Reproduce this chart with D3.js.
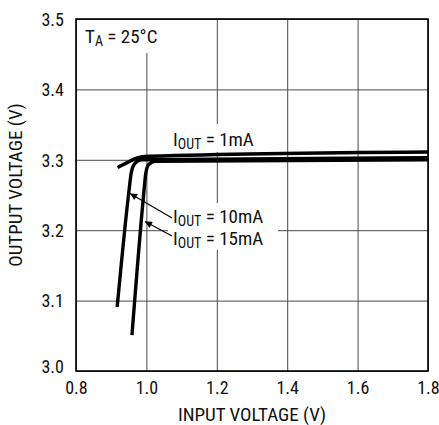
<!DOCTYPE html>
<html>
<head>
<meta charset="utf-8">
<script src="https://cdn.jsdelivr.net/npm/d3@7"></script>
<style>
  body { margin: 0; background: #fff; }
  svg text { font-family: "Liberation Sans Narrow", "Roboto Condensed", "Liberation Sans", sans-serif; fill: #111; }
</style>
</head>
<body>
<div id="chart"></div>
<script>
// data
var xTicks = [0.8, 1.0, 1.2, 1.4, 1.6, 1.8];
var yTicks = [3.0, 3.1, 3.2, 3.3, 3.4, 3.5];

var vin1 = [0.918, 0.945, 0.965, 0.985, 1.01, 1.8];
var vout1 = [3.289, 3.296, 3.301, 3.304, 3.305, 3.311];

var vin10 = [0.917, 0.951, 0.957, 0.966, 0.985, 1.8];
var vout10 = [3.091, 3.258, 3.282, 3.294, 3.300, 3.303];

var vin15 = [0.959, 0.993, 0.998, 1.006, 1.025, 1.8];
var vout15 = [3.051, 3.255, 3.280, 3.293, 3.298, 3.300];

var width = 439, height = 425;
var pLeft = 76, pRight = 428, pTop = 19, pBottom = 371;

var svg = d3.select("#chart").append("svg")
  .attr("width", width)
  .attr("height", height);

var xScale = d3.scaleLinear().domain([0.8, 1.8]).range([pLeft, pRight]);
var yScale = d3.scaleLinear().domain([3.0, 3.5]).range([pBottom, pTop]);

// arrow head
svg.append("defs").append("marker")
  .attr("id", "arr")
  .attr("viewBox", "0 0 10 10")
  .attr("refX", 10).attr("refY", 5)
  .attr("markerWidth", 10).attr("markerHeight", 7)
  .attr("markerUnits", "userSpaceOnUse")
  .attr("orient", "auto")
  .append("path").attr("d", "M0,0 L10,5 L0,10 z").attr("fill", "#000");

// grid
var xAxis = d3.axisBottom(xScale).tickValues(xTicks).tickSize(-(pBottom - pTop)).tickFormat(d3.format(".1f")).tickPadding(8);
var yAxis = d3.axisLeft(yScale).tickValues(yTicks).tickSize(-(pRight - pLeft)).tickFormat(d3.format(".1f")).tickPadding(12);

var gx = svg.append("g").attr("transform", "translate(0," + pBottom + ")").call(xAxis);
var gy = svg.append("g").attr("transform", "translate(" + pLeft + ",0)").call(yAxis);
[gx, gy].forEach(function(g) {
  g.select(".domain").remove();
  g.selectAll(".tick line").attr("stroke", "#4a4a4a").attr("stroke-width", 1);
  g.selectAll(".tick text").attr("font-size", 18).attr("fill", "#111");
});
gx.selectAll(".tick text").attr("dy", "0.85em");
gy.selectAll(".tick text").attr("dy", "0.35em");
gy.selectAll(".tick text").filter(function(d) { return d === 3.0; }).attr("dy", "0.1em");

// white boxes behind the labels (gridlines are broken there)
var boxes = [
  [xScale(0.8) + 2, pTop + 1, 110, 33],
  [170, 124, 96, 28],
  [168, 203, 110, 47]
];
boxes.forEach(function(b) {
  svg.append("rect").attr("x", b[0]).attr("y", b[1]).attr("width", b[2]).attr("height", b[3]).attr("fill", "#fff");
});

// frame
svg.append("rect")
  .attr("x", pLeft).attr("y", pTop)
  .attr("width", pRight - pLeft).attr("height", pBottom - pTop)
  .attr("fill", "none").attr("stroke", "#000").attr("stroke-width", 1.6);

// curves
var line = d3.line()
  .x(function(d) { return xScale(d[0]); })
  .y(function(d) { return yScale(d[1]); })
  .curve(d3.curveMonotoneX);

[[vin1, vout1], [vin10, vout10], [vin15, vout15]].forEach(function(s) {
  svg.append("path")
    .datum(d3.zip(s[0], s[1]))
    .attr("d", line)
    .attr("fill", "none")
    .attr("stroke", "#000")
    .attr("stroke-width", 3.4);
});

// labels
function iout(x, y, txt) {
  var t = svg.append("text").attr("x", x).attr("y", y).attr("font-size", 19);
  t.append("tspan").text("I");
  t.append("tspan").attr("font-size", 14).attr("dy", 3).text("OUT");
  t.append("tspan").attr("dy", -3).text(" = " + txt);
}
iout(173, 146, "1mA");
iout(173, 223, "10mA");
iout(173, 245, "15mA");

var ta = svg.append("text").attr("x", 85).attr("y", 43).attr("font-size", 19);
ta.append("tspan").text("T");
ta.append("tspan").attr("font-size", 14).attr("dy", 3).text("A");
ta.append("tspan").attr("dy", -3).text(" = 25\u00B0C");

// arrows
svg.append("line").attr("x1", 172).attr("y1", 218).attr("x2", 130).attr("y2", 193.5)
  .attr("stroke", "#000").attr("stroke-width", 1.2).attr("marker-end", "url(#arr)");
svg.append("line").attr("x1", 172).attr("y1", 236).attr("x2", 145).attr("y2", 221.5)
  .attr("stroke", "#000").attr("stroke-width", 1.2).attr("marker-end", "url(#arr)");

// axis titles
svg.append("text")
  .attr("x", (pLeft + pRight) / 2).attr("y", 421)
  .attr("text-anchor", "middle").attr("font-size", 19)
  .text("INPUT VOLTAGE (V)");
svg.append("text")
  .attr("transform", "translate(22," + 185 + ")rotate(-90)")
  .attr("text-anchor", "middle").attr("font-size", 19)
  .text("OUTPUT VOLTAGE (V)");
</script>
</body>
</html>
